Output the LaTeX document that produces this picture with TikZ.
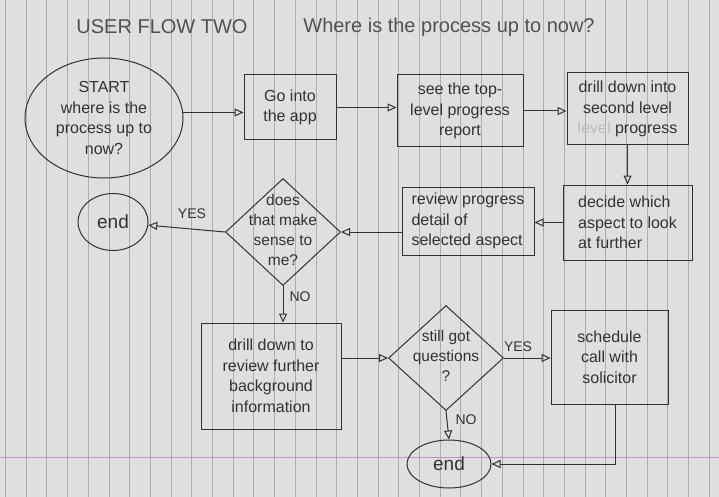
\documentclass[tikz,border=0pt]{standalone}
\usepackage{fontspec}
\setmainfont{Liberation Sans}
\usetikzlibrary{shapes.geometric,arrows.meta,calc}
\definecolor{paper}{RGB}{223,223,225}
\definecolor{rulegray}{RGB}{172,172,178}
\definecolor{pinkrule}{RGB}{200,140,200}
\definecolor{pencil}{RGB}{50,50,53}
\definecolor{faint}{RGB}{190,190,195}
\begin{document}
\begin{tikzpicture}[x=1pt,y=-1pt,
  box/.style={draw=pencil, line width=1pt, rectangle, inner sep=2pt, align=center,
    font=\fontsize{16}{20.5}\selectfont, text=pencil},
  term/.style={draw=pencil, line width=1pt, ellipse, inner sep=0pt, align=center,
    font=\fontsize{16}{20.5}\selectfont, text=pencil},
  dia/.style={draw=pencil, line width=1pt, diamond, inner sep=0pt},
  txt/.style={align=center, font=\fontsize{15.5}{20}\selectfont, text=pencil, inner sep=0pt},
  lab/.style={font=\fontsize{14}{16}\selectfont, text=pencil, inner sep=1pt},
  ttl/.style={font=\fontsize{20}{22}\selectfont, text=pencil!85},
  arr/.style={draw=pencil, line width=1pt, -{Triangle[open, length=9pt, width=8pt]}}
]
\useasboundingbox (0,0) rectangle (719,497);
\fill[paper] (0,0) rectangle (719,497);
\foreach \k in {-2,...,32} \draw[rulegray, line width=0.55pt] ({46.7+20.7*\k},0) -- ++(0,497);
\draw[pinkrule, line width=1pt] (0,457) -- (719,457);

% titles
\node[ttl] (t1) at (162,27) {USER FLOW TWO};
\node[ttl] (t2) at (449,27) {Where is the process up to now?};

% nodes
\node[term, minimum width=158pt, minimum height=120pt] (start) at (104,118)
  {START\\where is the\\process up to\\now?};
\node[box, minimum width=92pt, minimum height=65pt] (go) at (290,107.5) {Go into\\the app};
\node[box, minimum width=126pt, minimum height=72pt] (see) at (460,111)
  {see the top-\\level progress\\report};
\node[box, minimum width=121pt, minimum height=72pt] (drill1) at (627.5,109)
  {drill down into\\second level\\\textcolor{faint}{level} progress};
\node[box, minimum width=129pt, minimum height=75pt, align=left] (decide) at (627.5,222.5)
  {decide which\\aspect to look\\at further};
\node[box, minimum width=132pt, minimum height=68pt, align=left] (review) at (468,221)
  {review progress\\detail of\\selected aspect};
\node[dia, minimum width=115pt, minimum height=107pt] (d1) at (283,232) {};
\node[txt] (d1t) at (283,230) {does\\that make\\sense to\\me?};
\node[term, minimum width=70pt, minimum height=57pt, font=\fontsize{19}{20}\selectfont] (end1) at (113,222) {end};
\node[box, minimum width=140pt, minimum height=106pt] (drill2) at (271,376)
  {drill down to\\review further\\background\\information};
\node[dia, minimum width=115pt, minimum height=105pt] (d2) at (446,358) {};
\node[txt] (d2t) at (446,356) {still got\\questions\\?};
\node[box, minimum width=117pt, minimum height=94pt] (sched) at (609.5,357)
  {schedule\\call with\\solicitor};
\node[term, minimum width=84pt, minimum height=48pt, font=\fontsize{19}{20}\selectfont] (end2) at (449,464) {end};

% labels
\node[lab] (yes1) at (192,214) {YES};
\node[lab] (no1) at (300,297) {NO};
\node[lab] (yes2) at (518,347) {YES};
\node[lab] (no2) at (466,420) {NO};

% connectors
\draw[arr] (start.4) -- (start.4 -| go.west);
\draw[arr] (go.east) -- (go.east -| see.west);
\draw[arr] (see.east) -- (see.east -| drill1.west);
\draw[arr] (drill1.south) -- (decide.north);
\draw[arr] (decide.west) -- (decide.west -| review.east);
\draw[arr] (review.west |- d1.east) -- (d1.east);
\draw[arr] (d1.west) -- (end1);
\draw[arr] (d1.south) -- (d1.south |- drill2.north);
\draw[arr] (drill2.east |- d2.west) -- (d2.west);
\draw[arr] (d2.east) -- (d2.east -| sched.west);
\draw[arr] (d2.south) -- (end2.north);
\draw[arr] ([xshift=6pt]sched.south) |- (end2.east);
\end{tikzpicture}
\end{document}
